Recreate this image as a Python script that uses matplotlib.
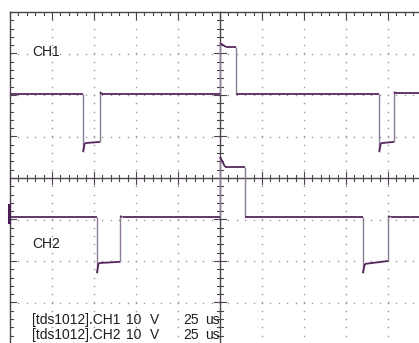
import numpy as np
import matplotlib
matplotlib.use('Agg')
import matplotlib.pyplot as plt
from matplotlib.collections import LineCollection

# ── Scope settings (screen units = divisions) ────────────────
N_XDIV, N_YDIV = 10, 8
MINOR = 0.2

# CH1 trace: time (div), level (div)
ch1_t = [0.0, 1.74, 1.74, 1.78, 2.14, 2.14, 2.20, 5.00, 5.00, 5.14,
         5.38, 5.38, 8.79, 8.79, 8.83, 9.14, 9.14, 9.20, 9.74]
ch1_v = [2.02, 2.02, 0.63, 0.84, 0.87, 2.07, 2.02, 2.02, 3.25, 3.16,
         3.16, 2.02, 2.02, 0.63, 0.84, 0.87, 2.07, 2.04, 2.04]

# CH2 trace
ch2_t = [0.0, 2.07, 2.07, 2.11, 2.62, 2.62, 2.68, 5.00, 5.00, 5.12,
         5.60, 5.60, 8.40, 8.40, 8.45, 9.00, 9.00, 9.06, 9.74]
ch2_v = [-0.94, -0.94, -2.29, -2.05, -2.02, -0.92, -0.94, -0.94, 0.51, 0.27,
         0.27, -0.94, -0.94, -2.29, -2.07, -2.00, -0.92, -0.94, -0.94]

ch1_label = "[tds1012].CH1"
ch2_label = "[tds1012].CH2"
volts_div = "10"
time_div = "25"

AX_COL = '#4d434f'
GRID_COL = '#9a9a9a'
TRACE_COL = '#55285c'
EDGE_COL = '#8c7d94'
TXT_COL = '#1e1e1e'
FONT = 'Liberation Sans'
FS = 10

fig = plt.figure(figsize=(4.19, 3.43), dpi=100)
ax = fig.add_axes([0, 0, 1, 1])
ax.set_xlim(-10 / 42, 409 / 42)
ax.set_ylim(-165 / 41.5, 178 / 41.5)
ax.axis('off')

# dotted graticule
minor_x = np.arange(0, N_XDIV + 1e-6, MINOR)
minor_y = np.arange(-N_YDIV / 2, N_YDIV / 2 + 1e-6, MINOR)
for gx in range(1, N_XDIV):
    if gx == 5:
        continue
    ax.plot(np.full_like(minor_y, gx), minor_y, ls='none', marker='s',
            ms=1.0, mew=0, color=GRID_COL)
for gy in range(-3, 4):
    if gy == 0:
        continue
    ax.plot(minor_x, np.full_like(minor_x, gy), ls='none', marker='s',
            ms=1.0, mew=0, color=GRID_COL)

# frame (top + left) with inner ticks
ax.plot([0, N_XDIV], [4, 4], color=AX_COL, lw=1.0)
ax.plot([0, 0], [-4, 4], color=AX_COL, lw=1.0)
for tx in minor_x:
    major = abs(tx - round(tx)) < 1e-6
    ax.plot([tx, tx], [4, 4 - (0.17 if major else 0.08)], color=AX_COL, lw=0.8)
for ty in minor_y:
    major = abs(ty - round(ty)) < 1e-6
    ax.plot([0, 0.15 if major else 0.07], [ty, ty], color=AX_COL, lw=0.8)

# centre axes with ticks
ax.plot([0, N_XDIV], [0, 0], color=AX_COL, lw=1.0)
ax.plot([5, 5], [-4, 4], color=AX_COL, lw=1.0)
for tx in minor_x:
    major = abs(tx - round(tx)) < 1e-6
    h = 0.14 if major else 0.07
    ax.plot([tx, tx], [-h, h], color=AX_COL, lw=0.8)
for ty in minor_y:
    major = abs(ty - round(ty)) < 1e-6
    w = 0.14 if major else 0.07
    ax.plot([5 - w, 5 + w], [ty, ty], color=AX_COL, lw=0.8)


def draw_trace(t, v):
    # fast edges look fainter on the scope, flat parts darker
    pts = np.column_stack([t, v])
    segs = np.stack([pts[:-1], pts[1:]], axis=1)
    vert = np.isclose(segs[:, 0, 0], segs[:, 1, 0])
    ax.add_collection(LineCollection(segs[vert], colors=EDGE_COL, linewidths=1.0))
    ax.add_collection(LineCollection(segs[~vert], colors=TRACE_COL, linewidths=1.3,
                                     capstyle='butt'))


draw_trace(ch1_t, ch1_v)
draw_trace(ch2_t, ch2_v)
ax.plot([-0.03, -0.03], [-0.65, -1.06], color='#4a1e52', lw=2.2)

# labels
ax.text(0.52, 2.94, "CH1", fontsize=FS, family=FONT, color=TXT_COL, va='baseline')
ax.text(0.52, -1.69, "CH2", fontsize=FS, family=FONT, color=TXT_COL, va='baseline')

for lbl, yb in [(ch1_label, -3.52), (ch2_label, -3.88)]:
    ax.text(0.52, yb, lbl, fontsize=FS, family=FONT, color=TXT_COL, va='baseline')
    ax.text(2.76, yb, volts_div, fontsize=FS, family=FONT, color=TXT_COL, va='baseline')
    ax.text(3.33, yb, "V", fontsize=FS, family=FONT, color=TXT_COL, va='baseline')
    ax.text(4.12, yb, time_div, fontsize=FS, family=FONT, color=TXT_COL, va='baseline')
    ax.text(4.64, yb, "us", fontsize=FS, family=FONT, color=TXT_COL, va='baseline')

fig.savefig("out.png", dpi=100, facecolor='white')
